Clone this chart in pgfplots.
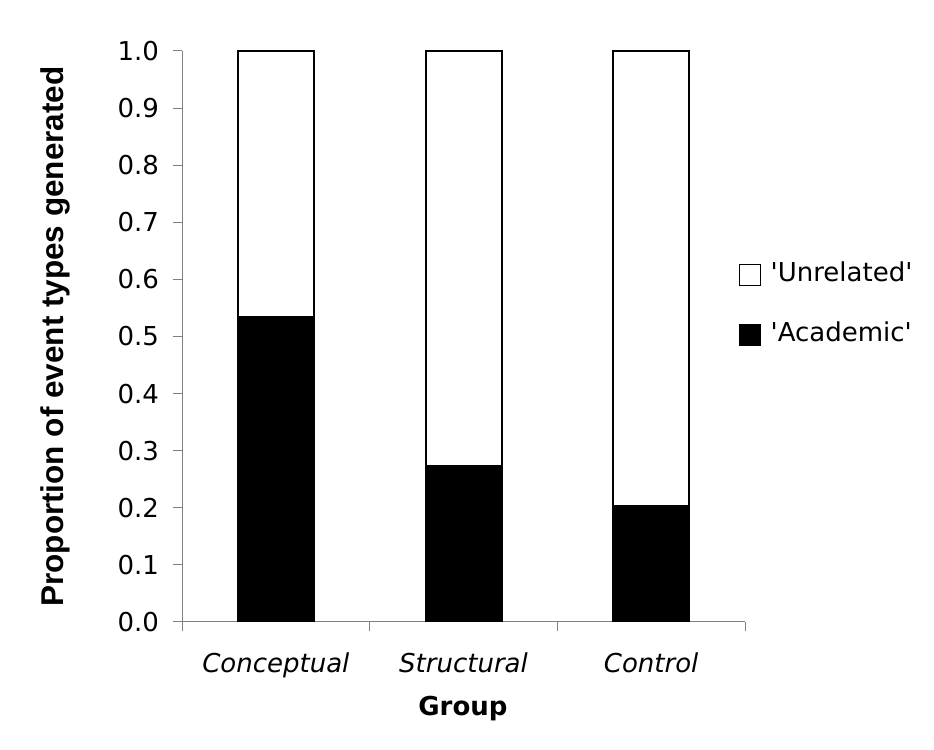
\documentclass[border=0pt]{standalone}
\usepackage{fontspec}
\setmainfont{DejaVu Sans}
\newfontfamily\arialb{Liberation Sans}[BoldFont=* Bold]
\usepackage{pgfplots}
\pgfplotsset{compat=1.18}
\pgfplotstableread{
x academic unrelated
0 0.534 0.466
1 0.273 0.727
2 0.203 0.797
}\datatable
\begin{document}
\begin{tikzpicture}
\useasboundingbox (0,0) rectangle (700.5pt,561.75pt);
\begin{axis}[
  at={(136.5pt,95.25pt)}, anchor=south west,
  scale only axis, width=422.25pt, height=428.25pt,
  ybar stacked, bar width=57pt,
  xmin=-0.5, xmax=2.5, ymin=0, ymax=1,
  axis lines*=left,
  axis line style={draw=gray, line width=0.75pt},
  tick align=outside,
  major tick length=6.75pt,
  tick style={draw=gray, line width=0.75pt},
  xtick={0,1,2},
  xticklabels={Conceptual,Structural,Control},
  major x tick style={draw=none},
  extra x ticks={-0.5,0.5,1.5,2.5},
  extra x tick labels={},
  extra x tick style={major x tick style={draw=gray, line width=0.75pt}},
  xticklabel style={font=\fontsize{19.5}{23}\selectfont\itshape, anchor=base, yshift=-31pt},
  ytick={0,0.1,0.2,0.3,0.4,0.5,0.6,0.7,0.8,0.9,1.0},
  yticklabel style={font=\fontsize{19.5}{23}\selectfont, xshift=-7pt, /pgf/number format/.cd, fixed, fixed zerofill, precision=1, assume math mode=true},
  ylabel={\bfseries Proportion of event types generated},
  ylabel style={font=\arialb\fontsize{23.6}{28}\selectfont, at={(axis description cs:-0.2256,0.5)}, anchor=center, rotate=0},
  xlabel={\bfseries Group},
  xlabel style={font=\fontsize{19.5}{23}\selectfont, at={(axis description cs:0.499,-0.152)}, anchor=center},
  reverse legend,
  legend cell align=left,
  legend image code/.code={\draw[#1, line width=0.75pt] (0pt,-7.875pt) rectangle (15.75pt,7.875pt); \path (22.5pt,0pt);},
  legend style={at={(axis description cs:0.982,0.556)}, anchor=west, draw=none, fill=none,
    font=\fontsize{19.5}{23}\selectfont, row sep=27pt,
    nodes={inner sep=0pt, text height=14pt, text depth=4pt}},
]
\addplot[fill=black, draw=black, line width=1.5pt] table[x=x, y=academic] {\datatable};
\addlegendentry{\textquotesingle Academic\textquotesingle}
\addplot[fill=white, draw=black, line width=1.5pt] table[x=x, y=unrelated] {\datatable};
\addlegendentry{\textquotesingle Unrelated\textquotesingle}
\end{axis}
\end{tikzpicture}
\end{document}
